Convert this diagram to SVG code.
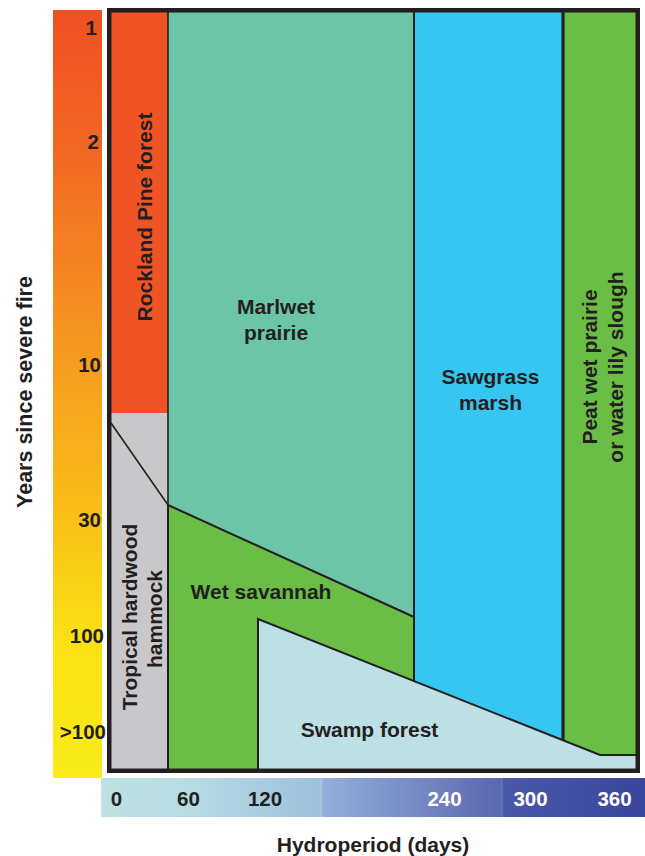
<svg xmlns="http://www.w3.org/2000/svg" width="645" height="856" viewBox="0 0 645 856">
  <defs>
    <linearGradient id="fireGrad" x1="0" y1="0" x2="0" y2="1">
      <stop offset="0" stop-color="#F05023"/>
      <stop offset="0.2" stop-color="#F26A22"/>
      <stop offset="0.45" stop-color="#F69A20"/>
      <stop offset="0.65" stop-color="#F9BE17"/>
      <stop offset="0.82" stop-color="#FAE014"/>
      <stop offset="1" stop-color="#F9EC17"/>
    </linearGradient>
    <linearGradient id="hydroGrad" x1="0" y1="0" x2="1" y2="0">
      <stop offset="0" stop-color="#BDE1E4"/>
      <stop offset="0.16" stop-color="#B6DCE2"/>
      <stop offset="0.404" stop-color="#9DC0DD"/>
      <stop offset="0.41" stop-color="#93AEDA"/>
      <stop offset="0.735" stop-color="#5B67B0"/>
      <stop offset="0.74" stop-color="#4A58A8"/>
      <stop offset="1" stop-color="#3A469C"/>
    </linearGradient>
  </defs>
  <style>
    text { font-family: "Liberation Sans", Arial, sans-serif; font-weight: bold; fill: #231F20; }
    .lbl { font-size: 21px; text-anchor: middle; }
    .tick { font-size: 20.5px; text-anchor: end; }
    .axn { font-size: 20.5px; text-anchor: middle; }
    .wht { fill: #FFFFFF; }
    .title { font-size: 21.5px; text-anchor: middle; }
    .edge { fill: none; stroke: #231F20; stroke-linejoin: miter; }
    .thin { stroke-width: 1.6; }
    .mid { stroke-width: 2; }
    .thick { stroke-width: 3.2; }
  </style>

  <!-- Fire axis -->
  <g id="fire-axis">
    <rect x="53" y="10" width="49" height="768" fill="url(#fireGrad)"/>
    <text class="tick" x="97" y="35">1</text>
    <text class="tick" x="99" y="149">2</text>
    <text class="tick" x="101" y="372">10</text>
    <text class="tick" x="101" y="527">30</text>
    <text class="tick" x="104" y="643">100</text>
    <text class="tick" x="106" y="739">&gt;100</text>
    <text class="title" transform="translate(32,392) rotate(-90)">Years since severe fire</text>
  </g>

  <!-- Hydroperiod axis -->
  <g id="hydro-axis">
    <rect x="101" y="778" width="544" height="39" fill="url(#hydroGrad)"/>
    <line x1="152" y1="778" x2="152" y2="817" stroke="#C8E6E8" stroke-width="1" opacity="0.6"/>
    <line x1="321" y1="778" x2="321" y2="817" stroke="#C4D6EC" stroke-width="1" opacity="0.6"/>
    <line x1="502" y1="778" x2="502" y2="817" stroke="#8C96CC" stroke-width="1" opacity="0.6"/>
    <text class="axn" x="116.5" y="806">0</text>
    <text class="axn" x="188.5" y="806">60</text>
    <text class="axn" x="265" y="806">120</text>
    <text class="axn wht" x="444.5" y="806">240</text>
    <text class="axn wht" x="530.5" y="806">300</text>
    <text class="axn wht" x="614.5" y="806">360</text>
    <text class="title" x="373" y="852" style="font-size:21px">Hydroperiod (days)</text>
  </g>

  <!-- Regions -->
  <g id="rockland-pine-forest">
    <polygon points="111,12 168,12 168,413 111,413" fill="#F15424"/>
    <text class="lbl" transform="translate(152,217) rotate(-90)">Rockland Pine forest</text>
  </g>
  <g id="tropical-hardwood-hammock">
    <polygon points="111,413 168,413 168,769 111,769" fill="#C8C8CA"/>
    <text class="lbl" transform="translate(137,617) rotate(-90)">Tropical hardwood</text>
    <text class="lbl" transform="translate(162,619) rotate(-90)">hammock</text>
  </g>
  <g id="marlwet-prairie">
    <polygon points="168,12 414,12 414,617 168,505" fill="#6CC5A7"/>
    <text class="lbl" x="276" y="314">Marlwet</text>
    <text class="lbl" x="276" y="340">prairie</text>
  </g>
  <g id="wet-savannah">
    <polygon points="168,505 414,617 414,681 258,619 258,769 168,769" fill="#6ABD45"/>
    <text class="lbl" x="261" y="599">Wet savannah</text>
  </g>
  <g id="sawgrass-marsh">
    <polygon points="414,12 563,12 563,740 414,681" fill="#36C6F2"/>
    <text class="lbl" x="490.5" y="384">Sawgrass</text>
    <text class="lbl" x="490.5" y="410">marsh</text>
  </g>
  <g id="peat-wet-prairie">
    <polygon points="563,12 636,12 636,755 600,755 563,740" fill="#6ABD45"/>
    <text class="lbl" transform="translate(597,367) rotate(-90)">Peat wet prairie</text>
    <text class="lbl" transform="translate(623,367) rotate(-90)">or water lily slough</text>
  </g>
  <g id="swamp-forest">
    <polygon points="258,619 600,755 636,755 636,769 258,769" fill="#BDE0E4"/>
    <text class="lbl" x="369.5" y="737">Swamp forest</text>
  </g>

  <!-- Boundaries -->
  <g id="connectors">
    <line class="edge thin" x1="168" y1="12" x2="168" y2="505"/>
    <line class="edge mid" x1="168" y1="505" x2="168" y2="769"/>
    <line class="edge thin" x1="111" y1="423" x2="168" y2="505"/>
    <line class="edge mid" x1="168" y1="505" x2="414" y2="617"/>
    <line class="edge mid" x1="414" y1="12" x2="414" y2="681"/>
    <line class="edge thick" x1="563" y1="12" x2="563" y2="740"/>
    <polyline class="edge mid" points="258,769 258,619 600,755 636,755"/>
    <line x1="133" y1="769" x2="133" y2="773" stroke="#8A8A8A" stroke-width="1"/>
    <line x1="318" y1="769" x2="318" y2="773" stroke="#8A8A8A" stroke-width="1"/>
    <line x1="502" y1="769" x2="502" y2="773" stroke="#8A8A8A" stroke-width="1"/>
  </g>

  <!-- Frame -->
  <g id="frame">
    <rect x="109.25" y="10.25" width="528.5" height="760.5" fill="none" stroke="#231F20" stroke-width="4.5"/>
  </g>
</svg>
